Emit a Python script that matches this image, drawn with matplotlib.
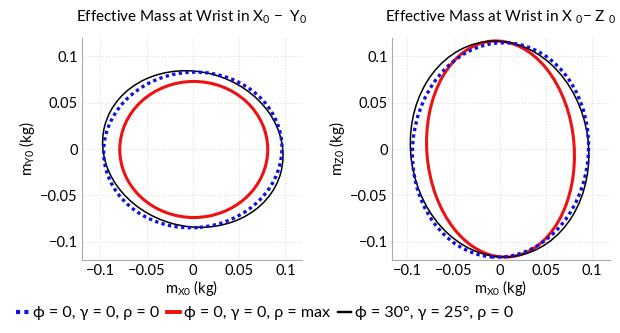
import matplotlib
matplotlib.use('Agg')
import matplotlib.pyplot as plt
from matplotlib.patches import Ellipse
from matplotlib.lines import Line2D

plt.rcParams['font.family'] = ['Lato', 'DejaVu Sans']

# legend labels
labels = ['ϕ = 0, γ = 0, ρ = 0', 'ϕ = 0, γ = 0, ρ = max', 'ϕ = 30°, γ = 25°, ρ = 0']
colors = ['#1010e0', '#ee1111', 'black']
styles = [(0, (1, 1.0)), '-', '-']
widths = [2.4, 2.2, 1.1]

# effective mass ellipses in X0-Y0 (kg): centre, full width, full height, tilt (deg)
xy_cx = [0.0, 0.001, 0.0]
xy_cy = [-0.001, -0.0005, 0.0]
xy_w = [0.193, 0.160, 0.197]
xy_h = [0.168, 0.147, 0.167]
xy_ang = [5, 0, -15]

# effective mass ellipses in X0-Z0 (kg)
xz_cx = [0.001, 0.001, 0.0]
xz_cy = [-0.001, 0.0, 0.0]
xz_w = [0.191, 0.160, 0.193]
xz_h = [0.232, 0.234, 0.234]
xz_ang = [-5, 4.6, 8]

ticks = [-0.1, -0.05, 0, 0.05, 0.1]
tick_labels = ['\u22120.1', '\u22120.05', '0', '0.05', '0.1']

fig = plt.figure(figsize=(6.2, 3.33), dpi=100)
ax1 = fig.add_axes([0.132, 0.219, 0.355, 0.667])
ax2 = fig.add_axes([0.632, 0.219, 0.352, 0.667])

panels = [
    (ax1, xy_cx, xy_cy, xy_w, xy_h, xy_ang,
     'Effective Mass at Wrist in X$\\mathregular{_0}$ \u2212  Y$\\mathregular{_0}$',
     '$\\mathregular{m_{Y0}}$ (kg)', (-0.12, 0.118)),
    (ax2, xz_cx, xz_cy, xz_w, xz_h, xz_ang,
     'Effective Mass at Wrist in X $\\mathregular{_0}$\u2212 Z $\\mathregular{_0}$',
     '$\\mathregular{m_{Z0}}$ (kg)', (-0.117, 0.12)),
]

for ax, cx, cy, w, h, ang, title, ylab, xl in panels:
    for i in range(3):
        e = Ellipse((cx[i], cy[i]), w[i], h[i], angle=ang[i], fill=False,
                    edgecolor=colors[i], linestyle=styles[i], linewidth=widths[i],
                    zorder=3 if i != 0 else 4)
        ax.add_patch(e)
    ax.set_xlim(*xl)
    ax.set_ylim(-0.12, 0.12)
    ax.set_xticks(ticks)
    ax.set_xticklabels(tick_labels)
    ax.set_yticks(ticks)
    ax.set_yticklabels(tick_labels)
    ax.grid(True, linestyle=':', color='#dddddd', linewidth=0.8)
    ax.set_axisbelow(True)
    for s in ['top', 'right']:
        ax.spines[s].set_visible(False)
    for s in ['left', 'bottom']:
        ax.spines[s].set_color('#aaaaaa')
        ax.spines[s].set_linewidth(0.8)
    ax.tick_params(length=0, labelsize=10.5, pad=3)
    ax.set_title(title, fontsize=11, pad=12)
    ax.set_xlabel('$\\mathregular{m_{X0}}$ (kg)', fontsize=10.5, labelpad=0)
    ax.set_ylabel(ylab, fontsize=11, labelpad=2)

handles = [Line2D([], [], color=colors[i], linestyle=styles[i], linewidth=widths[i] + 0.6)
           for i in range(3)]
fig.legend(handles, labels, loc='center', bbox_to_anchor=(0.427, 0.06), ncol=3,
           frameon=False, fontsize=11.5, handlelength=0.8, handletextpad=0.25,
           columnspacing=0.5, borderpad=0)

fig.savefig('out.png', dpi=100)
